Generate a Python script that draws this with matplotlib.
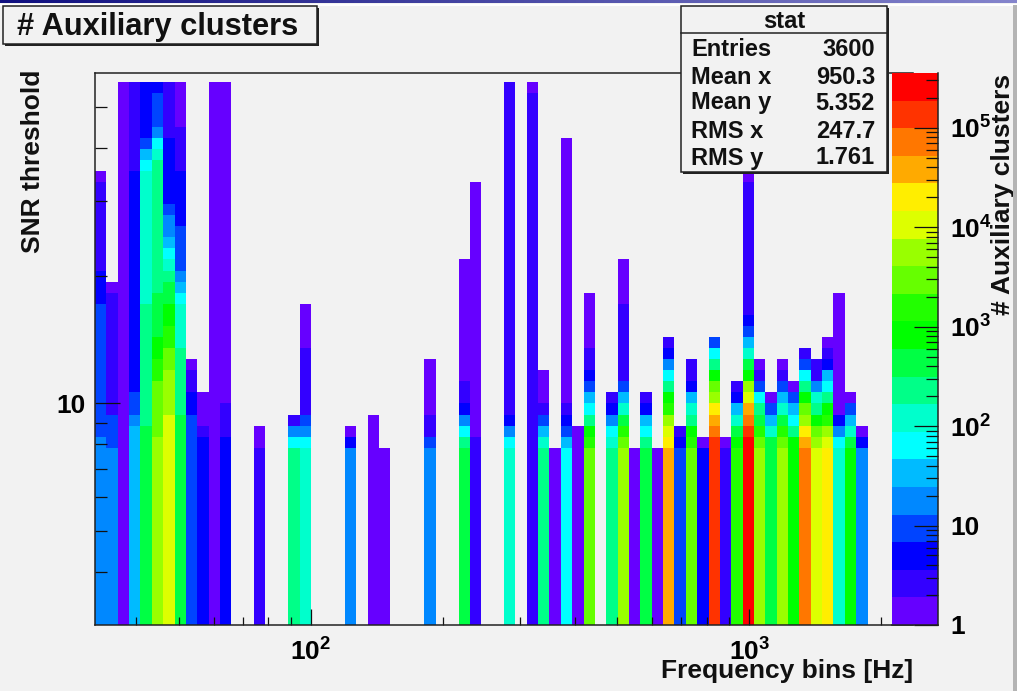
import numpy as np
import matplotlib
matplotlib.use("Agg")
import matplotlib.pyplot as plt
from matplotlib.colors import ListedColormap, BoundaryNorm
from matplotlib.patches import Rectangle
from matplotlib.ticker import FixedLocator, FixedFormatter, NullFormatter

# ---------- data ----------
palette = ["#6600ff", "#3300ff", "#0000ff", "#0044ff", "#0088ff", "#00bbff", "#00ffff",
           "#00ffcc", "#00ff88", "#00ff44", "#00ff00", "#22ff00", "#66ff00", "#99ff00",
           "#ddff00", "#ffee00", "#ffaa00", "#ff7700", "#ff3300", "#ff0000"]

n_freq_bins = 72
n_snr_bins = 50
freq_limits = (32.2, 2363.0)
snr_limits = (3.0, 60.2)
snr_edge_limits = (3.0, 60.8)
z_limits = (1.0, 3.56e5)

# frequency bin -> runs of (colour level, upper SNR bin edge), listed from the bottom up
col0 = [(4,17),(3,29),(2,32),(1,40),(0,41)]
col1 = [(4,16),(3,19),(1,30),(0,31)]
col2 = [(0,49)]
col3 = [(5,18),(4,19),(3,21),(2,41),(1,49)]
col4 = [(9,18),(8,29),(7,41),(6,42),(5,43),(3,44),(2,49)]
col5 = [(13,17),(12,22),(11,24),(10,26),(9,30),(8,42),(7,43),(6,44),(4,45),(3,48),(2,49)]
col6 = [(14,19),(13,23),(12,25),(11,27),(10,29),(9,31),(8,32),(7,33),(6,34),(5,35),(4,37),(3,38),(2,44),(1,49)]
col7 = [(9,19),(8,25),(7,29),(6,30),(5,31),(4,32),(3,36),(2,41),(1,45),(0,49)]
col8 = [(3,19),(2,21),(1,23),(0,24)]
col9 = [(2,17),(1,18),(0,21)]
col10 = [(0,49)]
col11 = [(2,17),(1,20),(0,49)]
col14 = [(1,16),(0,18)]
col17 = [(8,16),(6,17),(4,18),(1,19)]
col18 = [(7,16),(6,17),(4,18),(3,19),(1,25),(0,29)]
col22 = [(4,16),(2,17),(0,18)]
col24 = [(0,19)]
col25 = [(0,16)]
col29 = [(4,16),(3,17),(1,19),(0,24)]
col32 = [(9,16),(8,17),(6,18),(4,19),(2,20),(1,22),(0,33)]
col33 = [(1,17),(0,40)]
col36 = [(7,16),(6,17),(4,18),(2,19),(1,49)]
col38 = [(1,48),(0,49)]
col39 = [(8,16),(7,17),(5,18),(3,19),(1,20),(0,23)]
col40 = [(0,16)]
col41 = [(6,16),(5,17),(3,18),(2,19),(1,20),(0,44)]
col42 = [(0,18)]
col43 = [(12,16),(11,17),(10,18),(8,19),(6,20),(5,21),(3,22),(2,23),(1,25),(0,30)]
col45 = [(8,16),(7,17),(6,18),(4,19),(2,20),(1,21)]
col46 = [(13,16),(12,17),(11,18),(9,19),(7,20),(5,21),(3,22),(1,29),(0,33)]
col47 = [(0,16)]
col48 = [(9,16),(8,17),(6,18),(5,19),(2,20),(1,21)]
col49 = [(0,16)]
col50 = [(16,16),(15,17),(14,18),(13,19),(11,20),(10,21),(8,22),(6,23),(4,24),(2,25),(1,26)]
col51 = [(3,16),(2,17),(1,18)]
col52 = [(12,16),(11,17),(10,18),(8,19),(7,20),(5,21),(2,22),(1,24)]
col53 = [(2,16),(0,17)]
col54 = [(18,17),(17,18),(16,19),(15,20),(13,21),(12,22),(10,23),(8,24),(6,25),(3,26)]
col55 = [(1,16),(0,17)]
col56 = [(11,16),(10,17),(9,18),(7,19),(5,20),(2,21),(1,22)]
col57 = [(19,17),(18,18),(17,19),(16,20),(14,21),(13,22),(10,23),(9,24),(7,25),(5,26),(3,27),(2,28),(1,40),(0,42)]
col58 = [(13,16),(12,17),(11,18),(9,19),(8,20),(6,21),(3,22),(1,23),(0,24)]
col59 = [(9,17),(7,18),(5,19),(3,20),(0,21)]
col60 = [(13,16),(12,17),(11,18),(9,19),(7,20),(5,21),(3,22),(1,23),(0,24)]
col61 = [(10,17),(8,18),(6,19),(5,20),(3,21),(0,22)]
col62 = [(17,16),(16,17),(15,18),(13,19),(12,20),(10,21),(8,22),(6,23),(3,24),(1,25)]
col63 = [(14,16),(13,17),(12,18),(10,19),(8,20),(7,21),(4,22),(1,24)]
col64 = [(15,16),(14,17),(13,18),(11,19),(10,20),(8,21),(6,22),(5,23),(2,24),(1,25),(0,26)]
col65 = [(7,16),(6,17),(4,18),(2,19),(0,30)]
col66 = [(10,16),(9,17),(7,18),(5,19),(3,20),(0,21)]
col67 = [(4,16),(2,17),(0,18)]

columns = {0: col0, 1: col1, 2: col2, 3: col3, 4: col4, 5: col5, 6: col6, 7: col7, 8: col8,
           9: col9, 10: col10, 11: col11, 14: col14, 17: col17, 18: col18, 22: col22, 24: col24,
           25: col25, 29: col29, 32: col32, 33: col33, 36: col36, 38: col38, 39: col39,
           40: col40, 41: col41, 42: col42, 43: col43, 45: col45, 46: col46, 47: col47,
           48: col48, 49: col49, 50: col50, 51: col51, 52: col52, 53: col53, 54: col54,
           55: col55, 56: col56, 57: col57, 58: col58, 59: col59, 60: col60, 61: col61,
           62: col62, 63: col63, 64: col64, 65: col65, 66: col66, 67: col67}

title_text = "# Auxiliary clusters"
x_label = "Frequency bins [Hz]"
y_label = "SNR threshold"
z_label = "# Auxiliary clusters"
stat_names = ["Entries", "Mean x", "Mean y", "RMS x", "RMS y"]
stat_values = ["3600", "950.3", "5.352", "247.7", "1.761"]
x_major = [100, 1000]
x_major_labels = [r"$\mathbf{10^{2}}$", r"$\mathbf{10^{3}}$"]
x_minor = [40, 50, 60, 70, 80, 90, 200, 300, 400, 500, 600, 700, 800, 900, 2000]
y_major = [10]
y_major_labels = ["10"]
y_minor = [4, 5, 6, 7, 8, 9, 20, 30, 40, 50]
z_major = [1, 10, 100, 1000, 10000, 100000]
z_major_labels = ["1", "10", r"$\mathbf{10^{2}}$", r"$\mathbf{10^{3}}$", r"$\mathbf{10^{4}}$", r"$\mathbf{10^{5}}$"]
z_minor = [m * 10 ** d for d in range(6) for m in range(2, 10) if m * 10 ** d < 3.56e5]

# ---------- page ----------
W, H = 1017, 691
BG = "#f2f2f2"
INK = "#111111"
TICK_FS = 19
LABEL_FS = 19
plt.rcParams["font.family"] = ["Liberation Sans", "DejaVu Sans"]
plt.rcParams["font.weight"] = "bold"
plt.rcParams["mathtext.fontset"] = "custom"
plt.rcParams["mathtext.bf"] = "Liberation Sans:bold"
plt.rcParams["mathtext.rm"] = "Liberation Sans:bold"
plt.rcParams["mathtext.default"] = "bf"

fig = plt.figure(figsize=(W / 100, H / 100), dpi=100, facecolor=BG)


def fx(px):
    return px / W


def fy(py):
    return 1 - py / H


def axes_px(x0, y0, x1, y1, **kw):
    return fig.add_axes([fx(x0), fy(y1), (x1 - x0) / W, (y1 - y0) / H], **kw)


def box_px(x0, y0, x1, y1, **kw):
    fig.add_artist(Rectangle((fx(x0), fy(y1)), (x1 - x0) / W, (y1 - y0) / H,
                             transform=fig.transFigure, **kw))


# top banner and right edge of the slide
banner = fig.add_axes([0, fy(3.5), 1, 3.5 / H], zorder=5)
banner.imshow(np.linspace(0, 1, 256)[None, :], aspect="auto",
              cmap=ListedColormap(np.linspace([0.06, 0.06, 0.50], [0.52, 0.52, 0.80], 256)))
banner.axis("off")
box_px(0, 3.5, W, 5.5, facecolor="#ffffff", edgecolor="none", zorder=5)
box_px(1012.5, 5, W, H, facecolor="#b4b4b4", edgecolor="none", zorder=5)

# ---------- main histogram ----------
ax = axes_px(95, 73, 913, 625, zorder=1)
ax.set_facecolor(BG)
xedges = np.geomspace(*freq_limits, n_freq_bins + 1)
yedges = np.geomspace(*snr_edge_limits, n_snr_bins + 1)
Z = np.full((n_snr_bins, n_freq_bins), np.nan)
for col, runs in columns.items():
    lo = 0
    for level, hi in runs:
        Z[lo:hi, col] = level
        lo = hi
cmap = ListedColormap(palette)
norm = BoundaryNorm(np.arange(len(palette) + 1) - 0.5, cmap.N)
ax.pcolormesh(xedges, yedges, np.ma.masked_invalid(Z), cmap=cmap, norm=norm, edgecolors="none", antialiased=False)
ax.set_xscale("log")
ax.set_yscale("log")
ax.set_xlim(*freq_limits)
ax.set_ylim(*snr_limits)
ax.xaxis.set_major_locator(FixedLocator(x_major))
ax.xaxis.set_major_formatter(FixedFormatter(x_major_labels))
ax.xaxis.set_minor_locator(FixedLocator(x_minor))
ax.xaxis.set_minor_formatter(NullFormatter())
ax.yaxis.set_major_locator(FixedLocator(y_major))
ax.yaxis.set_major_formatter(FixedFormatter(y_major_labels))
ax.yaxis.set_minor_locator(FixedLocator(y_minor))
ax.yaxis.set_minor_formatter(NullFormatter())
ax.tick_params(axis="x", which="major", direction="in", length=11.5, width=0.9, color=INK, labelsize=TICK_FS, pad=9.5)
ax.tick_params(axis="x", which="minor", direction="in", length=5.8, width=0.9, color=INK)
ax.tick_params(axis="y", which="major", direction="in", length=18, width=0.9, color=INK, labelsize=TICK_FS, pad=7)
ax.tick_params(axis="y", which="minor", direction="in", length=8.6, width=0.9, color=INK)
for s in ax.spines.values():
    s.set_linewidth(1.1)
    s.set_color("#222222")
ax.spines["right"].set_visible(False)
for t in ax.get_xticklabels() + ax.get_yticklabels():
    t.set_fontweight("bold")

fig.text(fx(913), fy(671), x_label, ha="right", va="center", fontsize=LABEL_FS, fontweight="bold", color=INK)
fig.text(fx(33.5), fy(161), y_label, ha="center", va="center", rotation=90, fontsize=LABEL_FS, fontweight="bold", color=INK)

# ---------- palette ----------
cax = axes_px(892, 73, 938, 625, zorder=2)
zedges = np.geomspace(*z_limits, len(palette) + 1)
cax.pcolormesh([0, 1], zedges, np.arange(len(palette))[:, None], cmap=cmap, norm=norm, antialiased=False)
cax.set_yscale("log")
cax.set_xlim(0, 1)
cax.set_ylim(*z_limits)
cax.set_xticks([])
cax.yaxis.tick_right()
cax.yaxis.set_major_locator(FixedLocator(z_major))
cax.yaxis.set_major_formatter(FixedFormatter(z_major_labels))
cax.yaxis.set_minor_locator(FixedLocator(z_minor))
cax.yaxis.set_minor_formatter(NullFormatter())
cax.tick_params(axis="y", which="major", direction="in", length=17.3, width=0.9, color=INK, labelsize=TICK_FS, pad=9)
cax.tick_params(axis="y", which="minor", direction="in", length=8.6, width=0.9, color=INK)
for k, s in cax.spines.items():
    s.set_visible(k == "right" or k == "bottom")
    s.set_linewidth(1.1)
    s.set_color("#222222")
for t in cax.get_yticklabels():
    t.set_fontweight("bold")
fig.text(fx(1003), fy(194), z_label, ha="center", va="center", rotation=90, fontsize=LABEL_FS, fontweight="bold", color=INK)

# ---------- title box ----------
box_px(5, 8, 319, 46, facecolor="#222222", edgecolor="none", zorder=6)
box_px(3, 6, 317, 44, facecolor=BG, edgecolor="#222222", linewidth=1.1, zorder=7)
fig.text(fx(158), fy(27), title_text, ha="center", va="center", fontsize=22.2, fontweight="bold", color=INK, zorder=8)

# ---------- stat box ----------
box_px(683, 8, 889, 174, facecolor="#222222", edgecolor="none", zorder=6)
box_px(681, 6, 887, 172, facecolor=BG, edgecolor="#222222", linewidth=1.1, zorder=7)
fig.add_artist(plt.Line2D([fx(681), fx(887)], [fy(33), fy(33)], color="#222222", linewidth=1.1, zorder=8))
fig.text(fx(784), fy(22), "stat", ha="center", va="center", fontsize=17, fontweight="bold", color=INK, zorder=8)
stat_rows = [50, 77, 103, 131, 158]
for py, name, value in zip(stat_rows, stat_names, stat_values):
    fig.text(fx(691), fy(py), name, ha="left", va="center", fontsize=17, fontweight="bold", color=INK, zorder=8)
    fig.text(fx(875), fy(py), value, ha="right", va="center", fontsize=17, fontweight="bold", color=INK, zorder=8)

fig.savefig("out.png", dpi=100, facecolor=BG)
